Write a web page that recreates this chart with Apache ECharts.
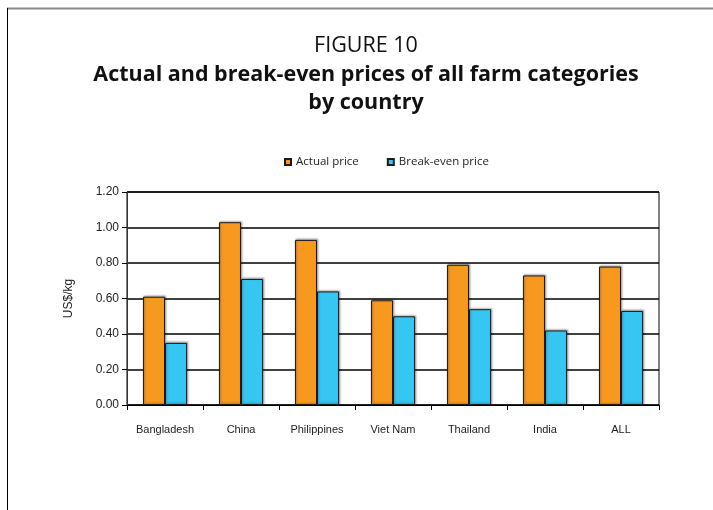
<!DOCTYPE html>
<html>
<head>
<meta charset="utf-8">
<script src="https://cdn.jsdelivr.net/npm/echarts@6/dist/echarts.min.js"></script>
<style>
  html, body { margin: 0; padding: 0; background: #fff; }
  #chart { width: 713px; height: 510px; }
</style>
</head>
<body>
<div id="chart"></div>
<script>
// Prices per country, US$/kg
const countries = ['Bangladesh', 'China', 'Philippines', 'Viet Nam', 'Thailand', 'India', 'ALL'];
const actualPrice = [0.61, 1.03, 0.93, 0.59, 0.79, 0.73, 0.78];
const breakEvenPrice = [0.35, 0.71, 0.64, 0.50, 0.54, 0.42, 0.53];
const seriesNames = ['Actual price', 'Break-even price'];
const yTicks = { min: 0, max: 1.2, interval: 0.2 };
const figureLabel = 'FIGURE 10';
const figureTitle = 'Actual and break-even prices of all farm categories\nby country';

const chart = echarts.init(document.getElementById('chart'), null, { renderer: 'canvas' });

const barStyle = (color) => ({
  color: color,
  borderColor: '#1a1a1a',
  borderWidth: 1,
  shadowColor: 'rgba(0,0,0,0.3)',
  shadowBlur: 2,
  shadowOffsetX: 1,
  shadowOffsetY: -1
});

chart.setOption({
  animation: false,
  backgroundColor: '#ffffff',
  legend: {
    data: seriesNames,
    top: 151,
    left: 279,
    icon: 'rect',
    itemWidth: 6,
    itemHeight: 6,
    itemGap: 28,
    textStyle: { fontFamily: 'Open Sans', fontSize: 11.5, color: '#222' }
  },
  grid: {
    left: 127,
    right: 54,
    top: 192,
    bottom: 105,
    show: true,
    borderColor: '#000',
    borderWidth: 1
  },
  xAxis: {
    type: 'category',
    data: countries,
    axisLine: { lineStyle: { color: '#000', width: 1 } },
    axisTick: { show: true, length: 5, inside: false, lineStyle: { color: '#000' } },
    axisLabel: { margin: 19, fontFamily: 'Liberation Sans', fontSize: 11, color: '#222' }
  },
  yAxis: {
    type: 'value',
    min: yTicks.min,
    max: yTicks.max,
    interval: yTicks.interval,
    name: 'US$/kg',
    nameLocation: 'middle',
    nameGap: 52,
    nameTextStyle: { fontFamily: 'Liberation Sans', fontSize: 12, color: '#222' },
    axisLine: { show: true, lineStyle: { color: '#333', width: 1 } },
    axisTick: { show: true, length: 5, lineStyle: { color: '#000' } },
    axisLabel: {
      margin: 8,
      fontFamily: 'Liberation Sans',
      fontSize: 12,
      color: '#222',
      formatter: (v) => v.toFixed(2)
    },
    splitLine: { show: true, lineStyle: { color: '#000', width: 1.5 } }
  },
  series: [
    {
      name: seriesNames[0],
      type: 'bar',
      data: actualPrice,
      barGap: '0%',
      barCategoryGap: '42%',
      itemStyle: barStyle('#F7981F')
    },
    {
      name: seriesNames[1],
      type: 'bar',
      data: breakEvenPrice,
      barGap: '0%',
      barCategoryGap: '42%',
      itemStyle: barStyle('#36C6F2')
    }
  ],
  graphic: [
    // page frame: grey top rule and black left rule
    {
      type: 'line',
      shape: { x1: 7, y1: 8.5, x2: 713, y2: 8.5 },
      style: { stroke: '#888', lineWidth: 2 }
    },
    {
      type: 'line',
      shape: { x1: 7.5, y1: 8, x2: 7.5, y2: 510 },
      style: { stroke: '#000', lineWidth: 1 }
    },
    // figure heading
    {
      type: 'text',
      style: {
        text: figureLabel,
        x: 366, y: 35,
        align: 'center', verticalAlign: 'top',
        fontFamily: 'Open Sans', fontSize: 21.5, fontWeight: 'normal',
        fill: '#111'
      }
    },
    {
      type: 'text',
      style: {
        text: figureTitle,
        x: 366, y: 61,
        align: 'center', verticalAlign: 'top',
        fontFamily: 'Open Sans', fontSize: 21.5, fontWeight: 'bold', lineHeight: 28,
        fill: '#111'
      }
    }
  ]
});
</script>
</body>
</html>
